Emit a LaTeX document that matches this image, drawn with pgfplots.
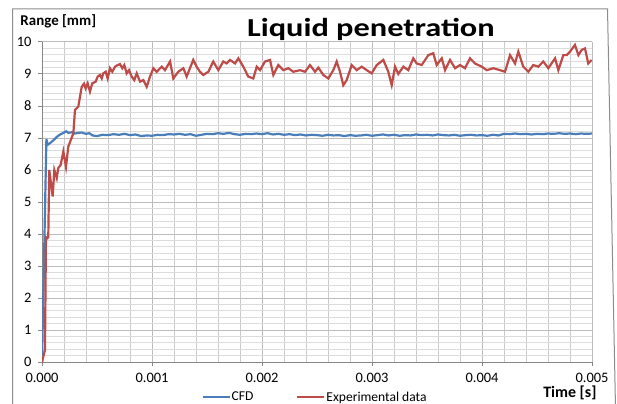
\documentclass[border=0pt]{standalone}
\usepackage{fontspec}
\setmainfont{Carlito}
\newfontfamily\titlefont[FakeStretch=1.25]{Carlito}
\usepackage{pgfplots}
\usepackage{pgfplotstable}
\pgfplotsset{compat=1.18}
\definecolor{cfdblue}{HTML}{4A7EBB}
\definecolor{expred}{HTML}{BE4B48}
\definecolor{majgrid}{HTML}{BCBCBC}
\definecolor{minxgrid}{HTML}{CBCBCB}
\definecolor{minygrid}{HTML}{DCDCDC}
\definecolor{axisgray}{HTML}{868686}
\definecolor{framegray}{HTML}{8C8C8C}

\pgfplotstableread{
t v
0 0
0.00004 6.97
0.00005 6.78
0.00008 6.86
0.00011 6.95
0.00014 7.05
0.00017 7.12
0.00020 7.17
0.00022 7.21
0.00024 7.16
0.00027 7.18
0.00030 7.14
0.00033 7.16
0.00036 7.17
0.00040 7.13
0.00043 7.15
0.00046 7.08
0.00050 7.06
0.00055 7.10
0.00060 7.09
0.00065 7.12
0.00070 7.10
0.00075 7.13
0.00080 7.09
0.00085 7.11
0.00090 7.06
0.00095 7.08
0.00100 7.07
0.00105 7.10
0.00110 7.09
0.00115 7.12
0.00120 7.11
0.00125 7.13
0.00130 7.10
0.00135 7.12
0.00140 7.07
0.00145 7.10
0.00150 7.13
0.00155 7.12
0.00160 7.15
0.00165 7.13
0.00170 7.16
0.00175 7.12
0.00180 7.10
0.00185 7.13
0.00190 7.12
0.00195 7.14
0.00200 7.12
0.00205 7.15
0.00210 7.11
0.00215 7.13
0.00220 7.10
0.00225 7.12
0.00230 7.09
0.00235 7.11
0.00240 7.08
0.00245 7.10
0.00250 7.09
0.00255 7.07
0.00260 7.10
0.00265 7.08
0.00270 7.09
0.00275 7.06
0.00280 7.09
0.00285 7.07
0.00290 7.08
0.00295 7.10
0.00300 7.07
0.00305 7.09
0.00310 7.11
0.00315 7.08
0.00320 7.10
0.00325 7.07
0.00330 7.09
0.00335 7.08
0.00340 7.11
0.00345 7.09
0.00350 7.10
0.00355 7.08
0.00360 7.11
0.00365 7.09
0.00370 7.08
0.00375 7.10
0.00380 7.07
0.00385 7.09
0.00390 7.10
0.00395 7.08
0.00400 7.09
0.00405 7.07
0.00410 7.10
0.00415 7.08
0.00420 7.13
0.00425 7.12
0.00430 7.14
0.00435 7.12
0.00440 7.13
0.00445 7.11
0.00450 7.13
0.00455 7.12
0.00460 7.14
0.00465 7.13
0.00470 7.15
0.00475 7.13
0.00480 7.14
0.00485 7.12
0.00490 7.14
0.00495 7.13
0.00500 7.14
}\cfd

\pgfplotstableread{
t v
0 0
0.000027 0.38
0.000036 3.90
0.000050 3.87
0.000057 3.90
0.000066 6.00
0.000097 5.17
0.000112 6.00
0.000134 5.75
0.000148 6.06
0.000170 6.16
0.000194 6.58
0.000218 6.10
0.000239 6.73
0.000285 7.15
0.000300 7.88
0.000315 7.93
0.000330 7.98
0.000361 8.60
0.000382 8.70
0.000397 8.55
0.000415 8.71
0.000436 8.45
0.000457 8.71
0.000488 8.76
0.000506 8.92
0.000527 8.97
0.000543 8.86
0.000557 9.02
0.000579 9.07
0.000597 8.86
0.000618 9.18
0.000639 9.07
0.000664 9.23
0.000688 9.28
0.000709 9.31
0.000730 9.18
0.000748 9.28
0.000770 9.02
0.000791 9.12
0.000815 8.92
0.000839 8.81
0.000861 9.02
0.000891 8.76
0.000921 8.81
0.000952 8.60
0.000982 8.92
0.001012 9.18
0.001043 9.07
0.001088 9.23
0.001118 9.12
0.001164 9.39
0.001194 8.86
0.001239 9.07
0.001285 9.18
0.001315 8.92
0.001375 9.44
0.001406 9.23
0.001436 9.07
0.001466 8.97
0.001512 9.07
0.001557 9.39
0.001603 9.12
0.001648 9.39
0.001679 9.33
0.001709 9.44
0.001755 9.33
0.001785 9.49
0.001830 9.23
0.001875 8.92
0.001921 8.86
0.001952 9.23
0.001982 9.12
0.002027 9.39
0.002073 9.44
0.002103 8.97
0.002148 9.28
0.002194 9.12
0.002239 9.18
0.002285 9.07
0.002345 9.12
0.002391 9.07
0.002436 9.28
0.002482 9.07
0.002512 9.20
0.002557 8.97
0.002603 8.86
0.002648 9.12
0.002679 9.39
0.002709 9.07
0.002739 8.65
0.002770 8.81
0.002815 9.28
0.002861 9.12
0.002906 9.23
0.002952 9.12
0.002997 9.02
0.003043 9.28
0.003103 9.44
0.003148 9.07
0.003179 8.65
0.003209 9.23
0.003239 9.00
0.003285 9.23
0.003330 9.12
0.003375 9.49
0.003406 9.33
0.003452 9.28
0.003512 9.59
0.003557 9.65
0.003588 9.28
0.003634 9.49
0.003664 9.12
0.003709 9.44
0.003755 9.18
0.003800 9.28
0.003845 9.18
0.003891 9.49
0.003936 9.33
0.003997 9.23
0.004043 9.12
0.004103 9.18
0.004164 9.12
0.004209 9.07
0.004255 9.59
0.004300 9.33
0.004330 9.70
0.004375 9.23
0.004421 9.07
0.004466 9.28
0.004512 9.23
0.004557 9.39
0.004603 9.18
0.004664 9.49
0.004694 9.12
0.004739 9.59
0.004770 9.59
0.004800 9.70
0.004845 9.91
0.004876 9.59
0.004906 9.75
0.004936 9.80
0.004966 9.33
0.004997 9.44
}\expdata

\begin{document}
\begin{tikzpicture}[x=1bp,y=1bp]
\useasboundingbox (0,0) rectangle (617,403);
\draw[framegray, line width=1bp] (12.5,-5) -- (12.5,394) -- (607.5,394) -- (615.5,-5);
\begin{axis}[
  at={(42bp,41bp)}, anchor=south west,
  width=550bp, height=320bp, scale only axis,
  xmin=0, xmax=0.005, ymin=0, ymax=10,
  xtick={0,0.001,0.002,0.003,0.004,0.005},
  ytick={0,1,2,3,4,5,6,7,8,9,10},
  minor x tick num=4, minor y tick num=4,
  grid=both,
  major grid style={majgrid, line width=1bp},
  minor x grid style={minxgrid, line width=1bp},
  minor y grid style={minygrid, line width=1.3bp},
  axis x line*=bottom, axis y line*=left,
  axis line style={axisgray, line width=1bp},
  tick align=outside,
  major tick length=4bp, minor tick length=0pt,
  tick style={axisgray, line width=1bp},
  scaled x ticks=false,
  ticklabel style={font=\fontsize{14.5}{16}\selectfont, text=black},
  xticklabel style={yshift=-4bp, /pgf/number format/.cd, fixed, fixed zerofill, precision=3, assume math mode=true},
  yticklabel style={xshift=-3bp, /pgf/number format/.cd, assume math mode=true},
  every axis title shift=0pt,
  title={Liquid penetration},
  title style={at={(axis description cs:0.598,1.018)}, anchor=base, font=\titlefont\fontsize{26}{30}\selectfont\bfseries},
  xlabel={Time [s]},
  xlabel style={at={(axis description cs:1.0145,-0.112)}, anchor=base east, font=\fontsize{16}{18}\selectfont\bfseries},
  ylabel={Range [mm]},
  ylabel style={rotate=-90, at={(axis description cs:-0.0455,1.053)}, anchor=base west, font=\fontsize{15}{18}\selectfont\bfseries},
  legend columns=2,
  legend style={at={(axis description cs:0.29,-0.11)}, anchor=west, draw=none, fill=none,
    inner sep=0pt, font=\fontsize{13.6}{15}\selectfont,
    /tikz/every even column/.append style={column sep=42bp},
    nodes={inner xsep=1bp}},
  legend image code/.code={\draw[#1, line width=2bp] (0bp,0bp) -- (27bp,0bp);},
]
\addplot[cfdblue, line width=2.2bp] table[x=t, y=v] {\cfd};
\addplot[expred, line width=2.2bp] table[x=t, y=v] {\expdata};
\legend{CFD, Experimental data}
\end{axis}
\end{tikzpicture}
\end{document}
